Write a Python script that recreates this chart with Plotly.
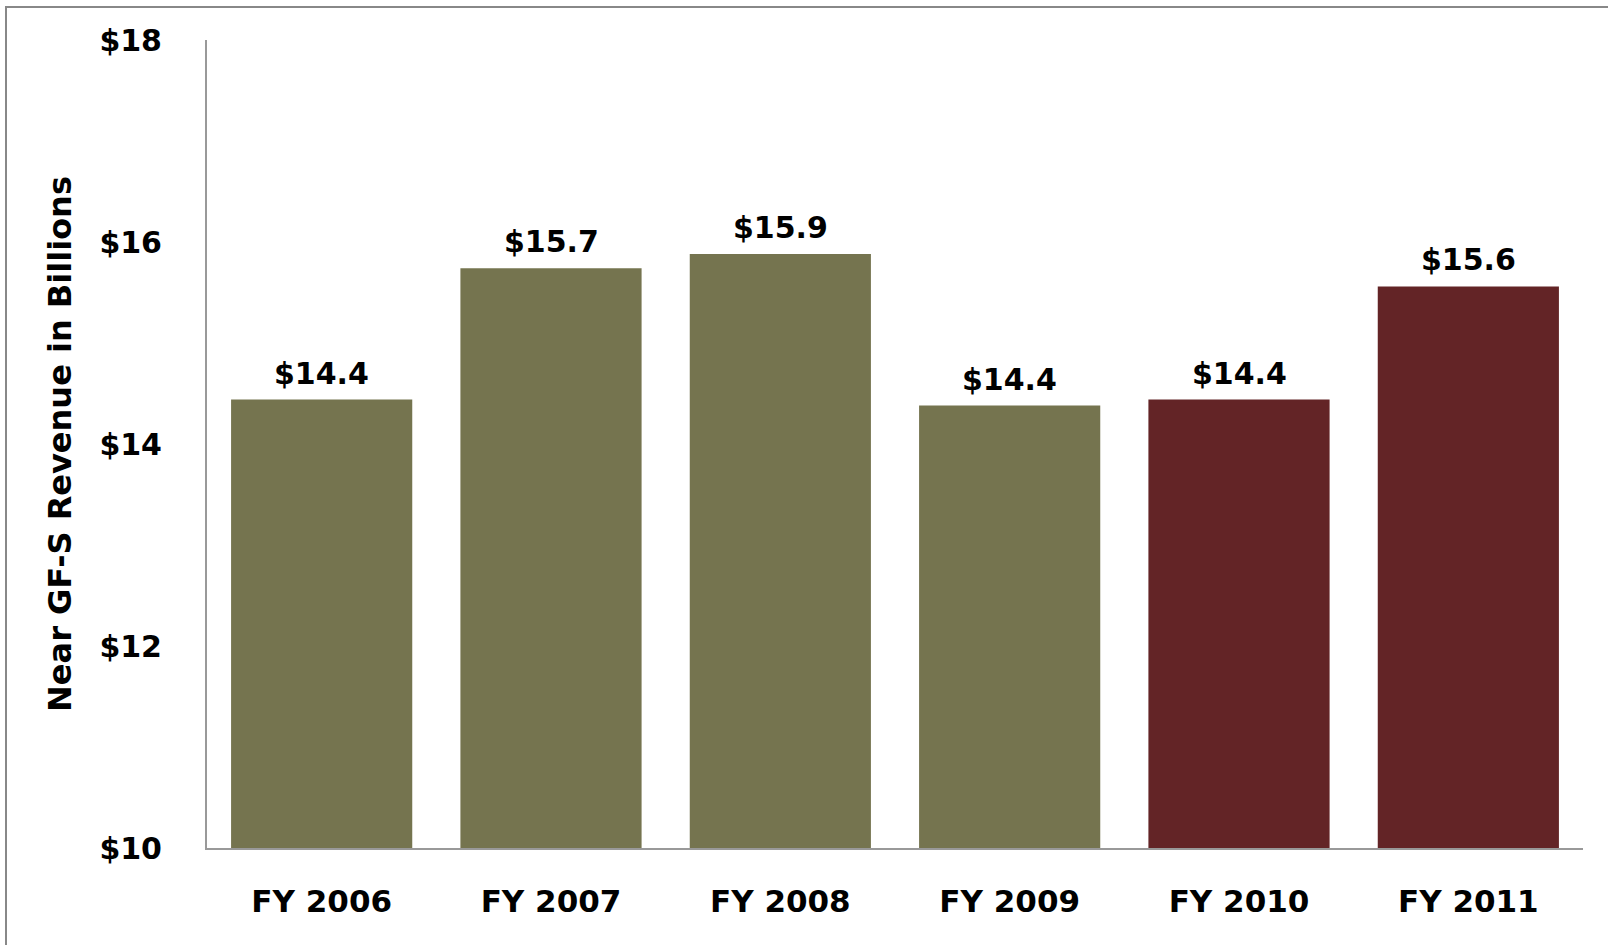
import plotly.graph_objects as go

# Near GF-S revenue by fiscal year, in billions of dollars
years = ["FY 2006", "FY 2007", "FY 2008", "FY 2009", "FY 2010", "FY 2011"]
revenue = [14.44, 15.74, 15.88, 14.38, 14.44, 15.56]
value_labels = ["$14.4", "$15.7", "$15.9", "$14.4", "$14.4", "$15.6"]
y_ticks = [10, 12, 14, 16, 18]
y_tick_labels = ["$10", "$12", "$14", "$16", "$18"]

OLIVE = "#75744F"
MAROON = "#632426"
bar_colors = [OLIVE, OLIVE, OLIVE, OLIVE, MAROON, MAROON]

FONT = "DejaVu Sans"
W, H = 1608, 945
L, R, T, B = 207, 25, 40, 97

fig = go.Figure(
    go.Bar(
        x=years,
        y=revenue,
        base=0,
        marker=dict(color=bar_colors, line=dict(width=0)),
        hoverinfo="skip",
    )
)

# value labels sitting above each bar
for yr, v, lab in zip(years, revenue, value_labels):
    fig.add_annotation(
        x=yr, y=v, text=f"<b>{lab}</b>", showarrow=False,
        xanchor="center", yanchor="bottom", yshift=7,
        font=dict(family=FONT, size=30, color="#000000"),
    )

# outer frame (left and top edges visible on the canvas)
pw, ph = W - L - R, H - T - B
fig.add_shape(
    type="rect", xref="paper", yref="paper",
    x0=(6 - L) / pw, x1=(W + 10 - L) / pw,
    y0=-(H + 10 - (H - B)) / ph, y1=((H - B) - 7) / ph,
    line=dict(color="#888888", width=2), fillcolor="rgba(0,0,0,0)",
    layer="below",
)

fig.update_layout(
    width=W, height=H,
    margin=dict(l=L, r=R, t=T, b=B, pad=0),
    paper_bgcolor="white", plot_bgcolor="white",
    bargap=0.21,
    showlegend=False,
    font=dict(family=FONT, color="#000000"),
    xaxis=dict(
        showgrid=False, zeroline=False,
        showline=True, linecolor="#999999", linewidth=2,
        ticks="", ticklabelstandoff=25,
        tickfont=dict(family=FONT, size=31, weight="bold", color="#000000"),
        fixedrange=True,
    ),
    yaxis=dict(
        range=[10, 18], showgrid=False, zeroline=False,
        showline=True, linecolor="#999999", linewidth=2,
        ticks="", tickvals=y_ticks, ticktext=y_tick_labels,
        ticklabelstandoff=37,
        tickfont=dict(family=FONT, size=30, weight="bold", color="#000000"),
        title=dict(
            text="Near GF-S Revenue in Billions", standoff=18,
            font=dict(family=FONT, size=32, weight="bold", color="#000000"),
        ),
        fixedrange=True,
    ),
)

fig.write_html("out.html")
